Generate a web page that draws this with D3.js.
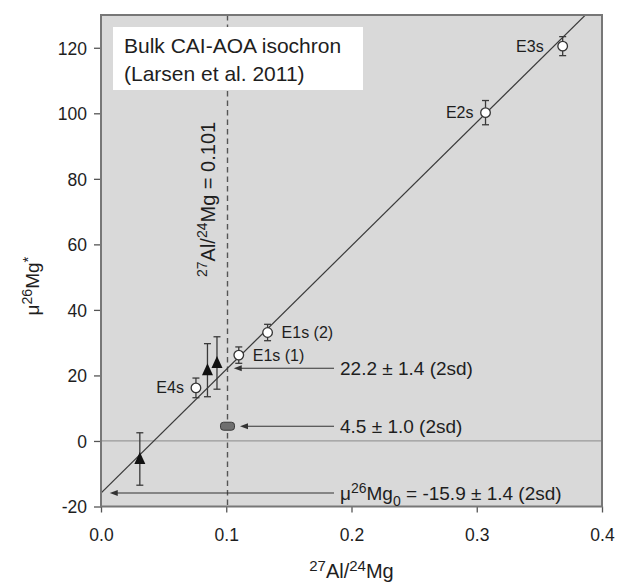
<!DOCTYPE html>
<html>
<head>
<meta charset="utf-8">
<script src="https://cdn.jsdelivr.net/npm/d3@7/dist/d3.min.js"></script>
<style>
  html, body { margin: 0; padding: 0; background: #fff; }
  svg { display: block; font-family: "Liberation Sans", Arial, Helvetica, sans-serif; }
</style>
</head>
<body>
<svg id="chart" width="618" height="583"></svg>
<script>
// Bulk CAI-AOA samples (open circles) with 2sd uncertainties
const sampleNames = ["E4s", "E1s (1)", "E1s (2)", "E2s", "E3s"];
const sampleAlMg  = [0.0758, 0.110, 0.133, 0.307, 0.3686];
const sampleMu    = [16.2, 26.2, 33.1, 100.2, 120.5];
const sampleErr   = [3.0, 2.5, 2.5, 3.7, 2.9];
// which side of the marker each sample name sits on
const sampleSide  = ["left", "right", "right", "left", "left"];

// Additional measurements (filled triangles)
const triAlMg = [0.031, 0.085, 0.0926];
const triMu   = [-5.5, 21.6, 23.8];
const triErr  = [8.0, 8.1, 8.0];

// Bulk chondrite composition
const bulkAlMg = 0.101;
const bulkMu   = 4.5;

// Isochron: initial value and the value at the chondritic ratio
const isoIntercept = -15.9;
const isoAtBulk    = 22.2;
const isoSlope     = (isoAtBulk - isoIntercept) / bulkAlMg;

// Annotated values with arrows
const arrowValues = [22.2, 4.5, -15.9];
const arrowTipX   = [0.106, 0.111, 0.007];
const arrowTexts  = ["22.2 ± 1.4 (2sd)", "4.5 ± 1.0 (2sd)", "-15.9 ± 1.4 (2sd)"];

// Axis ticks
const xTicks = [0, 0.1, 0.2, 0.3, 0.4];
const xTickLabels = ["0.0", "0.1", "0.2", "0.3", "0.4"];
const yTicks = [-20, 0, 20, 40, 60, 80, 100, 120];
const yTickLabels = ["-20", "0", "20", "40", "60", "80", "100", "120"];

const svg = d3.select("#chart");
const plot = { left: 101, right: 602, top: 15, bottom: 506.5 };

const x = d3.scaleLinear().domain([0, 0.4]).range([plot.left, plot.right]);
const y = d3.scaleLinear().domain([-20, 130]).range([plot.bottom, plot.top]);

const ink = "#1e1e1e";

// plot background
svg.append("rect")
  .attr("x", plot.left).attr("y", plot.top)
  .attr("width", plot.right - plot.left).attr("height", plot.bottom - plot.top)
  .attr("fill", "#d9d9d9");

svg.append("clipPath").attr("id", "clip")
  .append("rect")
  .attr("x", plot.left).attr("y", plot.top)
  .attr("width", plot.right - plot.left).attr("height", plot.bottom - plot.top);

// zero line
svg.append("line")
  .attr("x1", plot.left).attr("x2", plot.right)
  .attr("y1", y(0)).attr("y2", y(0))
  .attr("stroke", "#999").attr("stroke-width", 1.2);

// chondritic ratio line
svg.append("line")
  .attr("x1", x(bulkAlMg)).attr("x2", x(bulkAlMg))
  .attr("y1", plot.top).attr("y2", plot.bottom)
  .attr("stroke", "#555").attr("stroke-width", 1.4)
  .attr("stroke-dasharray", "5.5,4");

// isochron
svg.append("line")
  .attr("clip-path", "url(#clip)")
  .attr("x1", x(0)).attr("y1", y(isoIntercept))
  .attr("x2", x(0.4)).attr("y2", y(isoIntercept + isoSlope * 0.4))
  .attr("stroke", "#3a3a3a").attr("stroke-width", 1.2);

// axes
const xAxis = svg.append("g")
  .attr("transform", `translate(0,${plot.bottom})`)
  .call(d3.axisBottom(x).tickValues(xTicks)
        .tickFormat((d, i) => xTickLabels[i]).tickSize(6).tickSizeOuter(0));
const yAxis = svg.append("g")
  .attr("transform", `translate(${plot.left},0)`)
  .call(d3.axisLeft(y).tickValues(yTicks)
        .tickFormat((d, i) => yTickLabels[i]).tickSize(7).tickSizeOuter(0));

[xAxis, yAxis].forEach(g => {
  g.select(".domain").remove();
  g.selectAll(".tick line").attr("stroke", "#555").attr("stroke-width", 1.3);
  g.selectAll(".tick text")
    .attr("fill", ink)
    .style("font-size", "17.5px")
    .style("font-family", "'Liberation Sans', Arial, sans-serif");
});
xAxis.selectAll(".tick text").attr("dy", null).attr("y", 34);
yAxis.selectAll(".tick text").attr("x", -14).attr("dy", "0.36em");

// plot frame
svg.append("rect")
  .attr("x", plot.left).attr("y", plot.top)
  .attr("width", plot.right - plot.left).attr("height", plot.bottom - plot.top)
  .attr("fill", "none").attr("stroke", "#777").attr("stroke-width", 2);

// title box
svg.append("rect")
  .attr("x", 113).attr("y", 27).attr("width", 250).attr("height", 63)
  .attr("fill", "#fff");
const title = svg.append("text").attr("fill", ink).style("font-size", "21px");
title.append("tspan").attr("x", 124).attr("y", 53).text("Bulk CAI-AOA isochron");
title.append("tspan").attr("x", 124).attr("y", 81).text("(Larsen et al. 2011)");

// label along the chondritic ratio line
const vlab = svg.append("text")
  .attr("transform", `translate(${x(bulkAlMg) - 13},277) rotate(-90)`)
  .attr("fill", ink).style("font-size", "20px");
vlab.append("tspan").attr("dy", -8).style("font-size", "14px").text("27");
vlab.append("tspan").attr("dy", 8).text("Al/");
vlab.append("tspan").attr("dy", -8).style("font-size", "14px").text("24");
vlab.append("tspan").attr("dy", 8).text("Mg = 0.101");

// arrows and value annotations
const arrowG = svg.append("g");
arrowValues.forEach((v, i) => {
  const yy = y(v);
  const tip = x(arrowTipX[i]);
  const tail = 334;
  arrowG.append("line")
    .attr("x1", tip + 6).attr("x2", tail)
    .attr("y1", yy).attr("y2", yy)
    .attr("stroke", "#333").attr("stroke-width", 1.1);
  arrowG.append("path")
    .attr("d", `M${tip},${yy} L${tip + 8},${yy - 3} L${tip + 8},${yy + 3} Z`)
    .attr("fill", "#333");
  const t = arrowG.append("text")
    .attr("x", 340).attr("y", yy + 7)
    .attr("fill", ink).style("font-size", "19px");
  if (i === 2) {
    t.append("tspan").text("μ");
    t.append("tspan").attr("dy", -7).style("font-size", "14px").text("26");
    t.append("tspan").attr("dy", 7).text("Mg");
    t.append("tspan").attr("dy", 6).style("font-size", "14px").text("0");
    t.append("tspan").attr("dy", -6).text(" = " + arrowTexts[i]);
  } else {
    t.text(arrowTexts[i]);
  }
});

// error bars helper
function errorBar(g, cx, v, e) {
  const capW = 3.5;
  g.append("line").attr("x1", cx).attr("x2", cx)
    .attr("y1", y(v + e)).attr("y2", y(v - e))
    .attr("stroke", "#3a3a3a").attr("stroke-width", 1.3);
  [v + e, v - e].forEach(w => {
    g.append("line").attr("x1", cx - capW).attr("x2", cx + capW)
      .attr("y1", y(w)).attr("y2", y(w))
      .attr("stroke", "#3a3a3a").attr("stroke-width", 1.3);
  });
}

// bulk chondrite marker
svg.append("rect")
  .attr("x", x(bulkAlMg) - 7).attr("y", y(bulkMu) - 4)
  .attr("width", 14).attr("height", 8).attr("rx", 3)
  .attr("fill", "#6f6f6f").attr("stroke", "#3a3a3a").attr("stroke-width", 1);

// triangles
const triG = svg.append("g");
triAlMg.forEach((a, i) => {
  errorBar(triG, x(a), triMu[i], triErr[i]);
  const cx = x(a), cy = y(triMu[i]);
  triG.append("path")
    .attr("d", `M${cx},${cy - 7} L${cx + 5.5},${cy + 5} L${cx - 5.5},${cy + 5} Z`)
    .attr("fill", "#111");
});

// samples
const sampG = svg.append("g");
sampleAlMg.forEach((a, i) => {
  const cx = x(a), cy = y(sampleMu[i]);
  errorBar(sampG, cx, sampleMu[i], sampleErr[i]);
  sampG.append("circle").attr("cx", cx).attr("cy", cy).attr("r", 4.8)
    .attr("fill", "#fff").attr("stroke", "#333").attr("stroke-width", 1.3);
  const left = sampleSide[i] === "left";
  const off = (i === 4) ? 19 : (left ? 12 : 14);
  sampG.append("text")
    .attr("x", left ? cx - off : cx + off)
    .attr("y", cy + 5.5)
    .attr("text-anchor", left ? "end" : "start")
    .attr("fill", ink).style("font-size", "16px")
    .text(sampleNames[i]);
});

// x axis title
const xt = svg.append("text")
  .attr("x", (plot.left + plot.right) / 2).attr("y", 578)
  .attr("text-anchor", "middle").attr("fill", ink).style("font-size", "20px");
xt.append("tspan").attr("dy", -7).style("font-size", "15px").text("27");
xt.append("tspan").attr("dy", 7).text("Al/");
xt.append("tspan").attr("dy", -7).style("font-size", "15px").text("24");
xt.append("tspan").attr("dy", 7).text("Mg");

// y axis title
const yt = svg.append("text")
  .attr("transform", "translate(39,286) rotate(-90)")
  .attr("text-anchor", "middle").attr("fill", ink).style("font-size", "19px");
yt.append("tspan").text("μ");
yt.append("tspan").attr("dy", -7).style("font-size", "14px").text("26");
yt.append("tspan").attr("dy", 7).text("Mg");
yt.append("tspan").attr("dy", -6).style("font-size", "15px").text("*");
</script>
</body>
</html>
